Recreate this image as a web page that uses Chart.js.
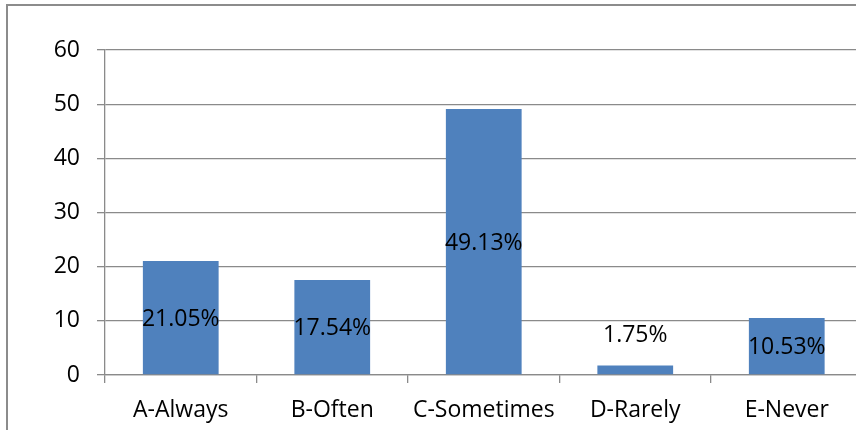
<!DOCTYPE html>
<html>
<head>
<meta charset="utf-8">
<script src="https://cdn.jsdelivr.net/npm/chart.js@4/dist/chart.umd.min.js"></script>
<style>
  html, body { margin: 0; padding: 0; background: #fff; overflow: hidden; }
  #wrap { position: relative; width: 856px; height: 430px; overflow: hidden; }
  #frame { position: absolute; left: 6px; top: 4px; width: 900px; height: 500px;
           border-left: 2px solid #8c8c8c; border-top: 2px solid #8c8c8c; box-sizing: border-box; }
  canvas { position: absolute; left: 0; top: 0; }
</style>
</head>
<body>
<div id="wrap">
  <div id="frame"></div>
  <canvas id="c" width="864" height="430"></canvas>
</div>
<script>
const categories = ['A-Always', 'B-Often', 'C-Sometimes', 'D-Rarely', 'E-Never'];
const values = [21.05, 17.54, 49.13, 1.75, 10.53];
const valueLabels = ['21.05%', '17.54%', '49.13%', '1.75%', '10.53%'];
const yMin = 0, yMax = 60, yStep = 10;

const FONT = "'Open Sans', 'DejaVu Sans', sans-serif";
const GRID = '#8a8a8a';

const labelPlugin = {
  id: 'barLabels',
  afterDatasetsDraw(chart) {
    const ctx = chart.ctx;
    const meta = chart.getDatasetMeta(0);
    const size = 23;
    ctx.save();
    ctx.font = size + 'px ' + FONT;
    ctx.fillStyle = '#000';
    ctx.textAlign = 'center';
    ctx.textBaseline = 'alphabetic';
    meta.data.forEach((bar, i) => {
      const top = bar.y, base = bar.base;
      let yc = (top + base) / 2;
      if (base - top < 30) yc = top - 31.5;
      ctx.fillText(valueLabels[i], bar.x, yc + 0.357 * size);
    });
    ctx.restore();
  }
};

new Chart(document.getElementById('c'), {
  type: 'bar',
  data: {
    labels: categories,
    datasets: [{
      data: values,
      backgroundColor: '#4f81bd',
      borderWidth: 0,
      categoryPercentage: 1.0,
      barPercentage: 0.5
    }]
  },
  options: {
    responsive: false,
    animation: false,
    layout: { padding: { top: 50, left: 0, right: 1.5, bottom: 0 } },
    plugins: { legend: { display: false }, tooltip: { enabled: false } },
    scales: {
      x: {
        offset: true,
        afterFit(s) { s.height = 55; },
        grid: { offset: true, drawOnChartArea: false, drawTicks: true, tickLength: 8, color: GRID, lineWidth: 1.3 },
        border: { display: true, color: GRID, width: 1.3 },
        ticks: { color: '#000', font: { family: FONT, size: 23 }, padding: 14, maxRotation: 0, autoSkip: false }
      },
      y: {
        min: yMin, max: yMax,
        afterFit(s) { s.width = 105; },
        grid: { color: GRID, lineWidth: 1.3, tickLength: 8, drawTicks: true },
        border: { display: true, color: GRID, width: 1.3 },
        ticks: { stepSize: yStep, color: '#000', font: { family: FONT, size: 23 }, padding: 17 }
      }
    }
  },
  plugins: [labelPlugin]
});
</script>
</body>
</html>
